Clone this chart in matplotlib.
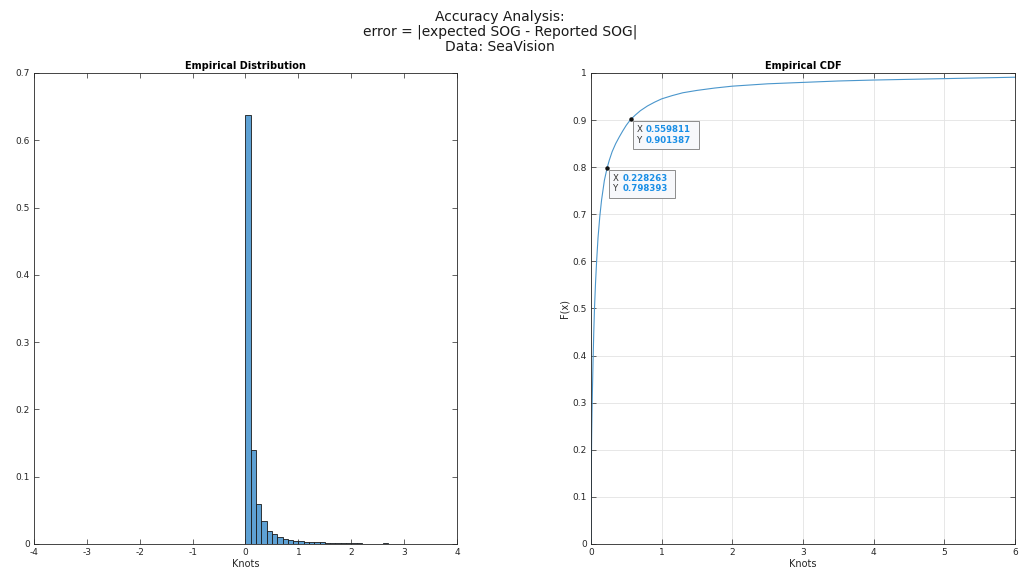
import matplotlib
matplotlib.use('Agg')
import matplotlib.pyplot as plt
import matplotlib.transforms as mtransforms
from matplotlib.patches import Rectangle
import numpy as np

# histogram (bin width 0.1 knots, probability normalised)
bin_edges = np.round(np.arange(0.0, 3.01, 0.1), 2)
bin_probs = [0.638, 0.140, 0.059, 0.034, 0.020, 0.0144, 0.011, 0.008, 0.006, 0.005,
             0.004, 0.0034, 0.003, 0.0025, 0.0022, 0.002, 0.0018, 0.0015, 0.0012, 0.001,
             0.0009, 0.0008, 0.0007, 0.0006, 0.0005, 0.0005, 0.0015, 0.0004, 0.0003, 0.0003]

# empirical CDF
cdf_x = [0, 0.002, 0.005, 0.01, 0.015, 0.02, 0.03, 0.04, 0.05, 0.065, 0.08, 0.1, 0.125,
         0.15, 0.19, 0.228, 0.26, 0.30, 0.35, 0.40, 0.45, 0.50, 0.56, 0.63, 0.70, 0.80,
         0.90, 1.0, 1.15, 1.3, 1.5, 1.75, 2.0, 2.5, 3.0, 3.5, 4.0, 5.0, 6.0]
cdf_y = [0, 0.08, 0.15, 0.23, 0.28, 0.32, 0.39, 0.45, 0.50, 0.555, 0.60, 0.65, 0.695,
         0.73, 0.772, 0.798, 0.815, 0.833, 0.850, 0.864, 0.877, 0.889, 0.901, 0.911, 0.920,
         0.930, 0.938, 0.945, 0.952, 0.958, 0.963, 0.968, 0.972, 0.977, 0.980, 0.983,
         0.985, 0.988, 0.991]

tips = [(0.228263, 0.798393), (0.559811, 0.901387)]

AX_COL = '#262626'
TIP_BLUE = '#1a8fe6'


def style_axes(ax):
    for s in ax.spines.values():
        s.set_color(AX_COL)
        s.set_linewidth(0.6)
    ax.tick_params(direction='in', length=3.5, width=0.5, colors=AX_COL,
                   labelsize=6.5, top=True, right=True, pad=3)


fig = plt.figure(figsize=(10.21, 5.76), dpi=100)
fig.suptitle('Accuracy Analysis:\nerror = |expected SOG - Reported SOG|\nData: SeaVision',
             fontsize=10, x=0.49, y=0.983, linespacing=1.1, color='#1a1a1a')

# left: empirical distribution
ax1 = fig.add_axes([0.0333, 0.0556, 0.4143, 0.8177])
ax1.bar(bin_edges[:-1], bin_probs, width=0.1, align='edge',
        facecolor='#5ea1d4', edgecolor='#1a1a1a', linewidth=0.6)
ax1.set_xlim(-4, 4)
ax1.set_ylim(0, 0.7)
ax1.set_xticks(range(-4, 5))
ax1.set_xticklabels([str(v) for v in range(-4, 5)])
ax1.set_yticks(np.arange(0, 0.71, 0.1))
ax1.set_yticklabels(['0'] + [f'{v:.1f}' for v in np.arange(0.1, 0.71, 0.1)])
style_axes(ax1)
ax1.set_title('Empirical Distribution', fontsize=7, fontweight='bold', pad=3)
ax1.set_xlabel('Knots', fontsize=7, labelpad=1, color=AX_COL)

# right: empirical CDF
ax2 = fig.add_axes([0.5788, 0.0556, 0.4153, 0.8177])
ax2.plot(cdf_x, cdf_y, color='#4a96cc', linewidth=0.8)
ax2.set_xlim(0, 6)
ax2.set_ylim(0, 1)
ax2.set_xticks(range(0, 7))
ax2.set_yticks(np.arange(0, 1.01, 0.1))
ax2.set_yticklabels(['0'] + [f'{v:.1f}' for v in np.arange(0.1, 0.95, 0.1)] + ['1'])
ax2.grid(True, color='#e3e3e3', linewidth=0.6)
ax2.set_axisbelow(True)
style_axes(ax2)
ax2.set_title('Empirical CDF', fontsize=7, fontweight='bold', pad=3)
ax2.set_xlabel('Knots', fontsize=7, labelpad=1, color=AX_COL)
ax2.set_ylabel('F(x)', fontsize=7, labelpad=2, color=AX_COL)

# data tips: box and text placed in inches relative to the data point
for tx, ty in tips:
    ax2.plot(tx, ty, 'o', color='#111111', markersize=2.2, zorder=5)
    trans = fig.dpi_scale_trans + mtransforms.ScaledTranslation(tx, ty, ax2.transData)
    ax2.add_patch(Rectangle((0.02, -0.30), 0.66, 0.28, transform=trans,
                            facecolor='#f7f8fb', edgecolor='#8c8c8c',
                            linewidth=0.7, zorder=6, clip_on=False))
    for i, (lab, val) in enumerate([('X', tx), ('Y', ty)]):
        yy = -0.105 - i * 0.105
        ax2.text(0.06, yy, lab, transform=trans, ha='left', va='center',
                 fontsize=6.2, color='#333333', zorder=7)
        ax2.text(0.155, yy, f'{val:.6f}', transform=trans, ha='left', va='center',
                 fontsize=6.2, fontweight='bold', color=TIP_BLUE, zorder=7)

fig.savefig('out.png', dpi=100)
